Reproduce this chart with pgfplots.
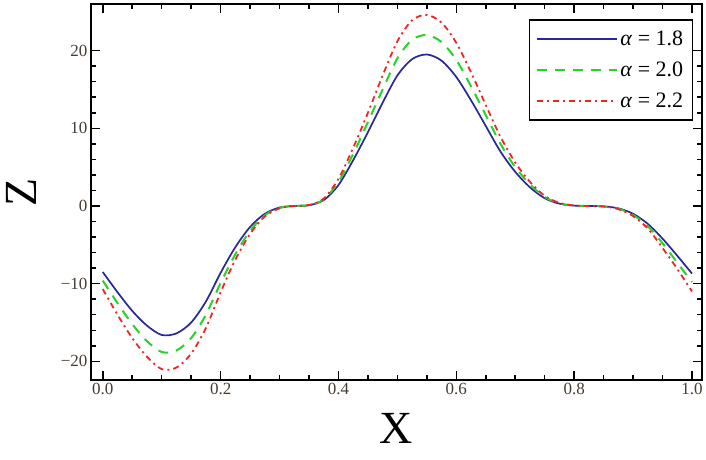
\documentclass[border=0pt]{standalone}
\usepackage{fontspec}
\setmainfont{Liberation Serif}
\usepackage{pgfplots}
\pgfplotsset{compat=1.18}
\definecolor{cblue}{RGB}{40,40,150}
\definecolor{cgreen}{RGB}{40,210,40}
\definecolor{cred}{RGB}{245,35,35}
\definecolor{ticktext}{RGB}{70,60,50}
\begin{document}
\begin{tikzpicture}
\path (0,0) rectangle (706pt,459pt);
\begin{axis}[
 at={(91pt,79pt)}, anchor=south west,
 width=611pt, height=376pt, scale only axis,
 clip mode=individual,
 xmin=-0.02, xmax=1.017, ymin=-22.4, ymax=26,
 xtick={0,0.2,0.4,0.6,0.8,1}, xticklabels={0.0,0.2,0.4,0.6,0.8,1.0},
 ytick={-20,-10,0,10,20}, yticklabels={−20,−10,0,10,20},
 minor x tick num=3, minor y tick num=4,
 major tick length=9pt, minor tick length=5pt,
 every tick/.style={line width=1.5pt, black},
 tick label style={font=\fontsize{17}{20}\selectfont, text=ticktext},
 xlabel={X}, ylabel={Z},
 label style={font=\fontsize{46}{50}\selectfont},
 xlabel style={at={(axis description cs:0.5,0)}, anchor=base, yshift=-63pt},
 ylabel style={at={(axis description cs:0,0.5)}, anchor=base, yshift=54pt},
 legend style={at={(axis description cs:1,1)}, anchor=north east, xshift=-9pt, yshift=-15pt,
   draw=black, line width=1.5pt, font=\fontsize{22}{26}\selectfont, row sep=11pt,
   inner xsep=7pt, inner ysep=9pt},
 legend cell align=left,
 legend image code/.code={\draw[#1] (0pt,0pt) -- (80pt,0pt);},
]
\addplot[cblue, line width=1.7pt, smooth] coordinates {
(0,-8.5) (0.025,-11.1) (0.05,-13.5) (0.075,-15.4) (0.1,-16.6) (0.125,-16.4) (0.15,-15.0) (0.175,-12.3) (0.2,-8.6) (0.225,-5.3) (0.25,-2.7) (0.275,-1.0) (0.3,-0.2) (0.325,0.0) (0.35,0.1) (0.375,0.75) (0.4,2.7) (0.425,5.9) (0.45,9.5) (0.475,13.3) (0.5,16.8) (0.525,18.9) (0.55,19.5) (0.575,18.7) (0.6,16.6) (0.625,13.6) (0.65,10.3) (0.675,7.0) (0.7,4.4) (0.725,2.4) (0.75,1.0) (0.775,0.3) (0.8,0.05) (0.825,0) (0.85,-0.05) (0.875,-0.3) (0.9,-1.0) (0.925,-2.3) (0.95,-4.2) (0.975,-6.4) (1.0,-8.7)
};
\addlegendentry{\textit{α} = 1.8}
\addplot[cgreen, line width=2pt, dash pattern=on 10pt off 8pt, smooth] coordinates {
(0,-9.6) (0.025,-12.5) (0.05,-15.2) (0.075,-17.4) (0.1,-18.8) (0.125,-18.6) (0.15,-17.0) (0.175,-14.0) (0.2,-9.9) (0.225,-6.2) (0.25,-3.2) (0.275,-1.2) (0.3,-0.25) (0.325,0) (0.35,0.11) (0.375,0.85) (0.4,3.1) (0.425,6.7) (0.45,10.8) (0.475,15.0) (0.5,19.0) (0.525,21.4) (0.55,22.0) (0.575,21.1) (0.6,18.8) (0.625,15.4) (0.65,11.7) (0.675,8.0) (0.7,5.0) (0.725,2.8) (0.75,1.15) (0.775,0.35) (0.8,0.05) (0.825,0) (0.85,-0.06) (0.875,-0.35) (0.9,-1.15) (0.925,-2.6) (0.95,-4.8) (0.975,-7.3) (1,-9.8)
};
\addlegendentry{\textit{α} = 2.0}
\addplot[cred, line width=1.8pt, dash pattern=on 6pt off 4pt on 2pt off 4pt, smooth] coordinates {
(0,-10.7) (0.025,-14.0) (0.05,-17.0) (0.075,-19.4) (0.1,-21.0) (0.125,-20.8) (0.15,-19.0) (0.175,-15.7) (0.2,-11.1) (0.225,-6.9) (0.25,-3.6) (0.275,-1.35) (0.3,-0.3) (0.325,0) (0.35,0.12) (0.375,0.95) (0.4,3.5) (0.425,7.5) (0.45,12.0) (0.475,16.8) (0.5,21.2) (0.525,23.9) (0.55,24.6) (0.575,23.6) (0.6,21.0) (0.625,17.2) (0.65,13.0) (0.675,8.9) (0.7,5.6) (0.725,3.1) (0.75,1.3) (0.775,0.4) (0.8,0.06) (0.825,0) (0.85,-0.07) (0.875,-0.4) (0.9,-1.3) (0.925,-2.9) (0.95,-5.4) (0.975,-8.1) (1,-11.0)
};
\addlegendentry{\textit{α} = 2.2}
\draw[line width=1.6pt] (rel axis cs:0,0) rectangle (rel axis cs:1,1);
\end{axis}
\end{tikzpicture}
\end{document}
